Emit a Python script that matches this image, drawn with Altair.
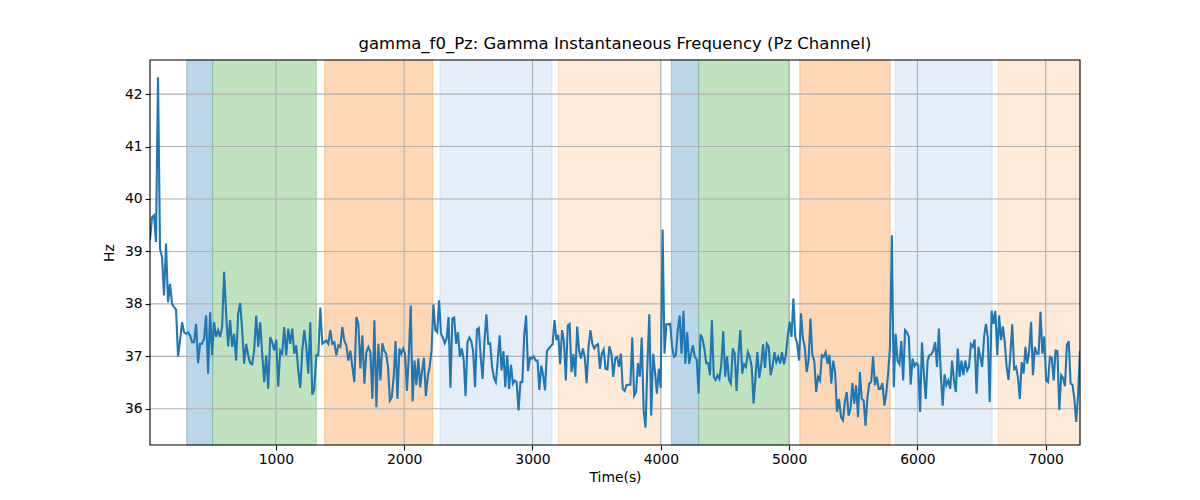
import altair as alt
import numpy as np
import pandas as pd

# ---- data ----
seg1_span = [19, 1799]
seg1 = [39.21, 39.65, 39.69, 39.18, 42.32, 39.05, 38.89, 38.16, 39.15, 38.03,
        38.38, 38.00, 37.94, 37.89, 37.00, 37.30, 37.65, 37.46, 37.43, 37.46,
        37.40, 37.27, 37.27, 37.62, 36.87, 37.24, 37.24, 37.34, 37.78, 36.67,
        37.84, 37.02, 37.65, 37.37, 37.50, 37.37, 37.56, 38.61, 37.81, 37.19,
        37.69, 37.18, 37.43, 36.92, 37.81, 38.02, 37.50, 36.86, 37.24, 37.02,
        36.87, 36.85, 37.11, 37.78, 37.18, 37.65, 37.05, 36.51, 37.02, 36.38,
        37.37, 37.27, 37.11, 37.32, 36.42, 37.11, 37.05, 37.56, 37.02, 37.53,
        37.24, 37.53, 37.05, 37.21, 36.73, 36.40, 37.11, 37.50, 37.18, 36.67,
        37.65, 36.27, 36.38, 37.02, 37.02, 37.93, 37.24, 37.27, 37.30, 37.24,
        37.50, 37.24, 37.27, 37.02, 37.21, 37.18, 37.56, 37.30, 37.21, 36.92,
        37.11, 36.80, 36.51, 37.75, 37.62, 36.77, 37.40, 36.48, 37.08, 37.18,
        37.08, 36.19, 37.69, 36.03, 37.24]

seg2_span = [1815, 3599]
seg2 = [36.54, 37.25, 37.11, 37.05, 36.80, 36.16, 36.22, 36.61, 37.29, 36.19,
        37.15, 37.05, 37.15, 37.05, 36.34, 37.02, 37.97, 36.14, 36.92, 36.45,
        36.96, 36.41, 36.73, 36.97, 36.24, 36.61, 36.80, 37.11, 37.99, 37.50,
        37.46, 38.07, 37.43, 37.36, 37.25, 37.34, 37.75, 36.40, 37.72, 37.74,
        37.24, 37.46, 36.99, 37.15, 36.94, 36.24, 37.27, 37.36, 37.29, 37.10,
        36.41, 37.51, 37.54, 36.99, 36.57, 37.31, 37.80, 37.24, 37.25, 36.80,
        36.59, 36.51, 36.92, 37.40, 36.73, 37.10, 36.41, 37.02, 36.38, 36.84,
        36.48, 36.54, 36.51, 35.97, 36.51, 36.51, 37.40, 37.78, 36.72, 36.97,
        36.96, 37.00, 36.92, 36.92, 36.36, 36.82, 36.64, 36.35, 37.10, 37.15,
        37.19, 37.23, 37.69, 37.31, 37.41, 36.85, 37.50, 37.29, 36.54, 37.59,
        37.62, 36.70, 37.05, 36.61, 37.57, 37.11, 36.96, 37.15, 36.99, 36.49,
        37.18, 37.50, 37.24, 37.15, 37.21, 37.23, 36.76, 37.05, 37.13, 36.76,
        36.75, 37.19]

seg3_span = [3615, 5388]
seg3 = [37.05, 36.61, 36.96, 36.99, 36.80, 37.05, 36.38, 36.34, 36.45, 36.46,
        36.46, 37.36, 36.25, 36.32, 36.87, 36.61, 37.36, 35.97, 35.64, 36.86,
        37.80, 35.87, 37.05, 36.70, 36.29, 36.76, 36.40, 39.42, 37.05, 37.61,
        37.61, 37.62, 37.18, 36.99, 37.02, 37.50, 37.78, 37.05, 37.87, 36.86,
        37.46, 36.86, 37.05, 37.21, 36.99, 36.94, 36.29, 37.42, 37.34, 37.15,
        36.87, 36.87, 36.64, 37.69, 36.61, 36.55, 36.64, 36.57, 36.86, 37.48,
        36.61, 37.00, 36.55, 36.48, 37.15, 37.06, 36.34, 37.02, 37.50, 36.67,
        36.85, 36.80, 37.08, 36.99, 36.80, 36.10, 36.61, 37.08, 36.59, 36.83,
        37.23, 36.78, 37.24, 37.18, 36.64, 36.80, 37.08, 36.89, 36.99, 36.86,
        37.08, 36.85, 37.02, 37.37, 37.66, 37.37, 38.10, 37.37, 37.24, 36.92,
        37.82, 37.34, 37.18, 36.70, 36.92, 37.72, 37.02, 36.92, 36.32, 36.61,
        36.54, 37.02, 36.99, 37.08, 36.86, 37.03, 36.48, 36.92, 36.70, 35.94,
        36.19]

seg4_span = [5405, 7267]
seg4 = [35.84, 35.78, 36.13, 36.32, 35.87, 36.00, 36.49, 36.10, 36.45, 35.84,
        36.70, 36.19, 36.16, 35.68, 36.22, 36.48, 36.51, 37.00, 36.45, 36.61,
        36.38, 36.38, 36.49, 36.06, 36.29, 36.67, 37.18, 39.31, 36.41, 37.43,
        36.92, 36.85, 37.29, 36.54, 37.50, 37.46, 37.37, 36.46, 36.96, 36.81,
        36.87, 36.83, 35.94, 37.27, 36.67, 36.19, 36.92, 37.02, 37.04, 37.11,
        37.27, 36.80, 37.53, 36.67, 36.06, 36.66, 36.45, 36.54, 36.38, 36.92,
        36.54, 36.32, 37.15, 36.61, 36.92, 36.64, 36.92, 36.73, 36.80, 37.23,
        37.18, 37.32, 36.29, 37.18, 36.99, 36.80, 37.37, 37.62, 37.36, 36.13,
        37.87, 37.62, 37.87, 37.02, 37.78, 37.31, 37.57, 37.27, 36.80, 36.55,
        37.05, 37.61, 36.76, 36.80, 36.61, 36.19, 36.89, 36.67, 37.18, 36.86,
        37.11, 37.66, 36.64, 37.18, 37.05, 37.05, 37.85, 37.05, 37.38, 36.54,
        36.51, 36.99, 36.97, 36.54, 37.11, 37.10, 35.98, 36.64, 36.59, 36.43,
        37.21, 37.29, 36.48, 36.46, 36.19, 35.75, 36.29, 37.11]

band_start = [305, 508, 1380, 2279, 3200, 4083, 4295, 5083, 5826, 6629]
band_end = [508, 1315, 2221, 3151, 4000, 4295, 5000, 5787, 6582, 7267]
band_kind = ["blue", "green", "orange", "lightblue", "lightorange",
             "blue", "green", "orange", "lightblue", "lightorange"]

kinds = ["blue", "green", "orange", "lightblue", "lightorange"]
kind_fill = ["#bbd6e9", "#c0e2bf", "#fed8b6", "#e5edf8", "#feead7"]
kind_edge = ["#1f77b4", "#2ca02c", "#ff7f0e", "#aec7e8", "#ffbb78"]

x_ticks = [1000, 2000, 3000, 4000, 5000, 6000, 7000]
y_ticks = [36, 37, 38, 39, 40, 41, 42]
x_domain = [19, 7267]
y_domain = [35.31, 42.65]

title_text = "gamma_f0_Pz: Gamma Instantaneous Frequency (Pz Channel)"

# ---- build tables ----
times, vals = [], []
for span, seg in [(seg1_span, seg1), (seg2_span, seg2), (seg3_span, seg3), (seg4_span, seg4)]:
    times.extend(np.linspace(span[0], span[1], len(seg)).tolist())
    vals.extend(seg)
line_df = pd.DataFrame({"t": times, "v": vals})
band_df = pd.DataFrame({"start": band_start, "end": band_end, "kind": band_kind})
xgrid_df = pd.DataFrame({"t": x_ticks})
ygrid_df = pd.DataFrame({"v": y_ticks})
frame_df = pd.DataFrame({"t0": [x_domain[0]], "t1": [x_domain[1]],
                         "v0": [y_domain[0]], "v1": [y_domain[1]]})

font = "DejaVu Sans"
xs = alt.Scale(domain=x_domain, nice=False, zero=False)
ys = alt.Scale(domain=y_domain, nice=False, zero=False)

bands = alt.Chart(band_df).mark_rect(strokeWidth=1.2, strokeOpacity=0.3).encode(
    x=alt.X("start:Q", scale=xs),
    x2="end:Q",
    fill=alt.Fill("kind:N", scale=alt.Scale(domain=kinds, range=kind_fill), legend=None),
    stroke=alt.Stroke("kind:N", scale=alt.Scale(domain=kinds, range=kind_edge), legend=None),
)

xgrid = alt.Chart(xgrid_df).mark_rule(color="#b0b0b0", strokeWidth=1.1).encode(
    x=alt.X("t:Q", scale=xs)
)
ygrid = alt.Chart(ygrid_df).mark_rule(color="#b0b0b0", strokeWidth=1.1).encode(
    y=alt.Y("v:Q", scale=ys)
)

line = alt.Chart(line_df).mark_line(color="#1f77b4", strokeWidth=2.1, clip=True).encode(
    x=alt.X("t:Q", scale=xs,
            axis=alt.Axis(title="Time(s)", values=x_ticks, format="d", grid=False)),
    y=alt.Y("v:Q", scale=ys,
            axis=alt.Axis(title="Hz", values=y_ticks, format="d", grid=False)),
)

frame = alt.Chart(frame_df).mark_rect(fill=None, fillOpacity=0, stroke="black",
                                      strokeWidth=1.1).encode(
    x=alt.X("t0:Q", scale=xs), x2="t1:Q",
    y=alt.Y("v0:Q", scale=ys), y2="v1:Q",
)

chart = alt.layer(bands, xgrid, ygrid, line, frame).properties(
    width=930, height=385,
    title=alt.TitleParams(title_text, font=font, fontSize=16.5, fontWeight="normal",
                          color="black", offset=7),
    autosize=alt.AutoSizeParams(type="none"),
    padding={"left": 142, "top": 52, "right": 112, "bottom": 47},
).configure_view(
    stroke=None
).configure_axis(
    labelFont=font, labelFontSize=13.9, labelColor="black",
    titleFont=font, titleFontSize=13.9, titleFontWeight="normal", titleColor="black",
    domain=False, tickColor="black", tickSize=4.9, tickWidth=1.1,
    labelPadding=3,
).configure_axisX(titlePadding=4).configure_axisY(titlePadding=8)

chart.save("out.html", embed_options={"renderer": "svg", "actions": False})
